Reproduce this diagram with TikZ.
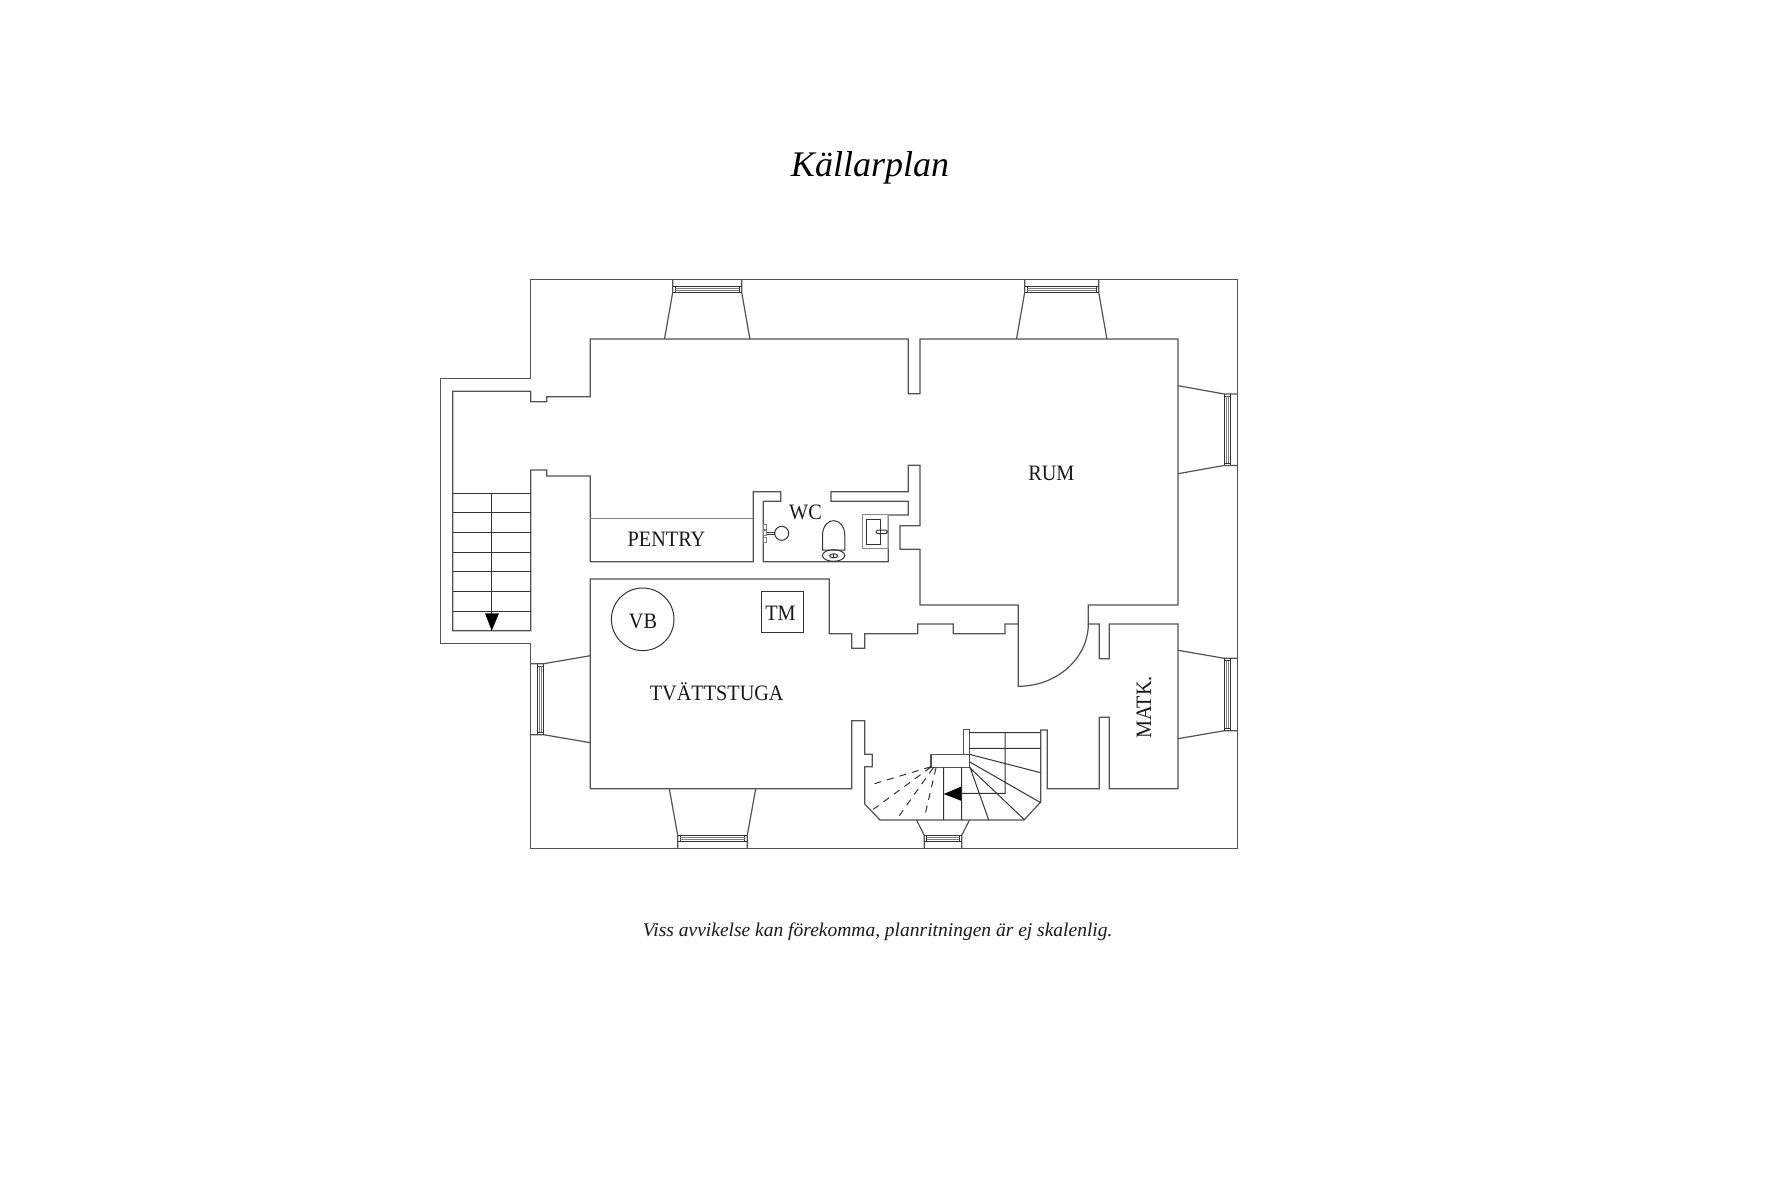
\documentclass[tikz,border=0pt]{standalone}
\usepackage{fontspec}
\setmainfont{Liberation Serif}
\newfontfamily\roomfont[FakeStretch=0.92]{Liberation Serif}
\tikzset{
  wall/.style={draw=black!68,line width=1.2pt,line join=miter},
  fitting/.style={draw=black!80,line width=1pt},
  roomlabel/.style={font=\roomfont\fontsize{22}{24}\selectfont,inner sep=0pt,anchor=base,text=black!90},
  pics/window/.style n args={3}{code={
    \draw[wall] (-#1,0) -- (-#1,13) -- (-#2,#3);
    \draw[wall] (#1,0) -- (#1,13) -- (#2,#3);
    \draw[fitting] (-#1,6.7) -- (#1,6.7);
    \draw[fitting] (-#1,13) -- (#1,13);
    \draw[fitting] (-#1+2.4,6.7) -- (-#1+2.4,13);
    \draw[fitting] (#1-2.4,6.7) -- (#1-2.4,13);
    \draw[fitting,draw=black!50] (-#1+2.4,8.9) -- (#1-2.4,8.9);
    \draw[fitting,draw=black!50] (-#1+2.4,11) -- (#1-2.4,11);
  }},
}
\begin{document}
\begin{tikzpicture}[x=1pt,y=-1pt]
\useasboundingbox (0,0) rectangle (1780,1186);
% outer walls
\draw[wall]
  (440.4,378.3) -- (530.7,378.3) -- (530.7,279.3) -- (1237.3,279.3) --
  (1237.3,848.3) -- (530.7,848.3) -- (530.7,643.3) -- (440.4,643.3) -- cycle;
% inner walls
\draw[wall]
  (452.7,391.3) -- (530.7,391.3) -- (530.7,401.7) -- (546.7,401.7) --
  (546.7,396.7) -- (590.3,396.7) -- (590.3,339) -- (908.3,339) --
  (908.3,393.7) -- (920,393.7) -- (920,339) -- (1178,339) -- (1178,605) --
  (1088.3,605) -- (1088.3,624) -- (1099.3,624) -- (1099.3,658.7) --
  (1109.3,658.7) -- (1109.3,624) -- (1178,624) -- (1178,788.7) --
  (1109.3,788.7) -- (1109.3,717.3) -- (1099.3,717.3) -- (1099.3,788.7) --
  (1047.3,788.7) -- (1047.3,730) -- (1040.7,730) -- (1040.7,802) --
  (1024,820) -- (880,820) -- (864.7,804) -- (864.7,766.7) -- (872.3,766.7) --
  (872.3,754.3) -- (864.7,754.3) -- (864.7,720.7) -- (851.7,720.7) --
  (851.7,788.7) -- (590.3,788.7) -- (590.3,579) -- (829.3,579) --
  (829.3,633.7) -- (851.7,633.7) -- (851.7,648.3) -- (864.7,648.3) --
  (864.7,633.7) -- (917.7,633.7) -- (917.7,624) -- (953.3,624) --
  (953.3,633.7) -- (1005,633.7) -- (1005,624) -- (1018.3,624) --
  (1018.3,605) -- (920,605) -- (920,549.3) -- (900,549.3) -- (900,525.7) --
  (920,525.7) -- (920,465.3) -- (908.3,465.3) -- (908.3,491.7) --
  (831,491.7) -- (831,501.3) -- (908.3,501.3) -- (908.3,515) -- (888.3,515) --
  (888.3,561.7) -- (763.3,561.7) -- (763.3,501.3) -- (780.7,501.3) --
  (780.7,491.7) -- (753.3,491.7) -- (753.3,561.7) -- (590.3,561.7) --
  (590.3,476) -- (546.7,476) -- (546.7,470) -- (530.7,470) --
  (530.7,630.7) -- (452.7,630.7) -- cycle;
\draw[wall,draw=black!50] (590.3,518.7) -- (753.3,518.7);
% door
\draw[wall] (1018.3,624) -- (1018.3,686.3)
  .. controls (1057,686.3) and (1088.3,658) .. (1088.3,624);
% windows
\path
  pic at (707.2,279.3) {window={34.5}{42.7}{59.7}}
  pic at (1061.7,279.3) {window={37}{45.2}{59.7}}
  pic[rotate=-90] at (1237.3,429.7) {window={35.7}{44}{59.3}}
  pic[rotate=-90] at (1237.3,694.5) {window={36.2}{44.2}{59.3}}
  pic[rotate=90] at (530.7,699.2) {window={35.5}{43.5}{59.6}}
  pic[rotate=180] at (712.5,848.3) {window={34.8}{43.2}{59.6}}
  pic[rotate=180] at (943,848.3) {window={18.7}{26.5}{28.3}};
% stairs left
\foreach \y in {493.3,512.7,532.3,552.3,571.7,591.3,611} {
  \draw[fitting] (452.7,\y) -- (530.7,\y);
}
\draw[fitting] (491.7,493.3) -- (491.7,630.7);
\fill[black] (485,613.3) -- (499,613.3) -- (491.7,630.7) -- cycle;
% stairs below
\draw[wall] (931,754.3) rectangle (969.3,767.3);
\draw[wall] (963.3,754.3) -- (963.3,729.3) -- (969.3,729.3) -- (969.3,754.3);
\draw[fitting]
  (969.3,732.7) -- (1040.7,732.7)
  (969.3,748.3) -- (1040.7,748.3)
  (1005,732.7) -- (1005,793.3) -- (961.7,793.3)
  (943.7,767.3) -- (943.7,820)
  (961.7,767.3) -- (961.7,820)
  (969.3,754.3) -- (1040.7,772.7)
  (969.3,761.7) -- (1040.7,802.7)
  (969.3,767.3) -- (1024,819.3)
  (970,767.3) -- (988.7,820);
\draw[fitting,dash pattern=on 7pt off 6pt]
  (931,766.7) -- (872.3,784.3)
  (931,767) -- (873.3,809.3)
  (933.3,767.7) -- (896.7,819.3)
  (936,767.7) -- (925,815);
\fill[black] (943.7,794) -- (961,786.7) -- (961,800.7) -- cycle;
% wc
\draw[fitting,draw=black!45] (862,514.7) rectangle (888.3,548.3);
\draw[fitting] (866,519) rectangle (880,544);
\draw[fitting,rounded corners=1.5pt] (876,530) rectangle (887.3,533.6);
\draw[fitting]
  (822.5,550) -- (822.5,536) .. controls (822.5,515.5) and (844.8,515.5) .. (844.8,536) -- (844.8,550) -- cycle;
\draw[fitting] (833.6,555.5) ellipse (11.2 and 5.8);
\draw[fitting] (833.7,555.8) ellipse (4 and 2);
\draw[fitting] (833.7,553.8) -- (833.7,557.8);
\draw[fitting] (781.7,533.3) circle (7);
\draw[fitting] (766.7,532.3) -- (774.9,532.3) (766.7,534.5) -- (774.9,534.5);
\foreach \y in {524,530.5,537} {
  \draw[fitting,draw=black!50] (763.3,\y) rectangle (766.7,\y+5);
}
% fittings in the laundry
\draw[fitting] (642.7,619.3) circle (31.3);
\draw[fitting] (761.3,591.7) rectangle (803,632.3);
% labels
\node[font=\fontsize{36}{40}\selectfont\itshape,inner sep=0pt,anchor=base] (title) at (870,176) {Källarplan};
\node[font=\fontsize{19.5}{24}\selectfont\itshape,inner sep=0pt,anchor=base,text=black!90] (note) at (877.7,936.7) {Viss avvikelse kan förekomma, planritningen är ej skalenlig.};
\node[roomlabel] (rum) at (1051.3,480) {RUM};
\node[roomlabel] (wc) at (805.5,519.3) {WC};
\node[roomlabel] (pentry) at (666.5,546) {PENTRY};
\node[roomlabel] (tvatt) at (716.7,700.7) {TVÄTTSTUGA};
\node[roomlabel] (vb) at (643,628) {VB};
\node[roomlabel] (tm) at (780.5,620.7) {TM};
\node[roomlabel,rotate=90] (matk) at (1151,707.3) {MATK.};
\end{tikzpicture}
\end{document}
